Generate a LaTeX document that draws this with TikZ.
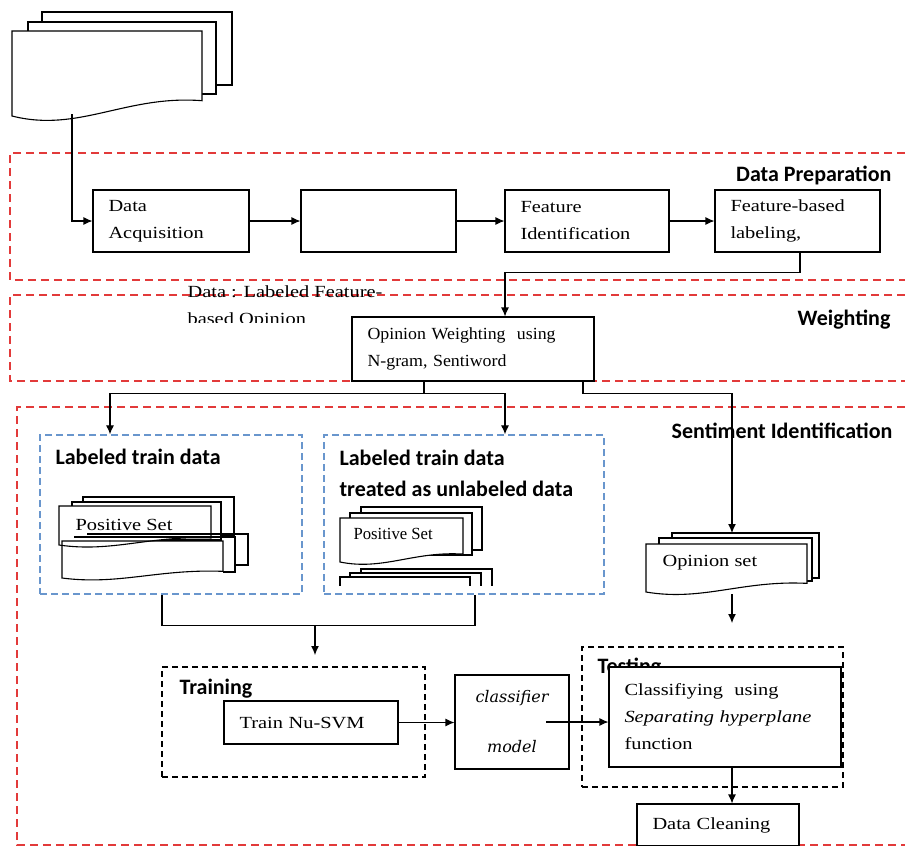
\documentclass[tikz,border=0pt]{standalone}
\usepackage{fontspec}
\setmainfont{Liberation Serif}[FakeStretch=1.2]
\newfontfamily\headfont{Carlito}
\newfontfamily\plainserif{Liberation Serif}[FakeStretch=0.98]
\newfontfamily\narrowserif{Liberation Serif}[FakeStretch=1.05]
\newfontfamily\modelfont{DejaVu Serif}

\usetikzlibrary{arrows.meta}

\definecolor{zonered}{RGB}{226,58,58}
\definecolor{setblue}{RGB}{105,150,205}

% one sheet with a wavy lower edge: x, y (top left), width, height
\newcommand{\docsheet}[5][fill=white]{%
  \draw[#1] (#2,#3) -- ({#2+#4},#3) -- ({#2+#4},{#3+0.82*#5})
    .. controls ({#2+0.6*#4},{#3+0.75*#5}) and ({#2+0.35*#4},{#3+1.2*#5}) .. (#2,{#3+#5}) -- cycle;}

\begin{document}
\begin{tikzpicture}[x=1pt, y=-1pt, line width=1.1pt,
  every node/.style={font=\fontsize{17}{27}\selectfont}]

  \tikzset{proc box/.style={rectangle,draw,fill=white,align=left,inner xsep=15.5pt,inner ysep=0pt}}
  \tikzset{zone/.style={draw=zonered,dash pattern=on 8pt off 5pt,line width=1.6pt}}
  \tikzset{set zone/.style={rectangle,draw=setblue,dash pattern=on 7pt off 4pt,line width=1.3pt}}
  \tikzset{stage zone/.style={rectangle,draw,dash pattern=on 6pt off 4pt,line width=1.8pt}}
  \tikzset{zone label/.style={font=\headfont\bfseries\fontsize{22}{31}\selectfont,inner sep=0pt}}
  \tikzset{flow/.style={-{Latex[length=9pt,width=8pt]}}}

  \useasboundingbox (0,0) rectangle (905,846);

  % the three stages
  \draw[zone] (905,153) -- (10,153) -- (10,280) -- (905,280);
  \draw[zone] (905,295) -- (10,295) -- (10,381) -- (905,381);
  \draw[zone] (905,407) -- (17,407) -- (17,845) -- (905,845);

  \node[zone label, anchor=east](preplbl) at (892,175) {Data Preparation};
  \node[zone label, anchor=east](wlbl) at (891,320) {Weighting};
  \node[zone label, anchor=east](sentlbl) at (893,431) {Sentiment Identification};

  % source documents
  \draw[fill=white] (42,12) rectangle (232,85);
  \draw[fill=white] (28,22) rectangle (216,94);
  \docsheet{12}{31}{190}{85}
  \coordinate (src) at (72,114);

  \path
    (171,221) node[proc box, text width=125pt, minimum height=62pt](acq) {Data\\Acquisition}
    (378.5,221) node[proc box, text width=124pt, minimum height=62pt](blank) {}
    (587,221) node[proc box, text width=133pt, minimum height=62pt](featid) {Feature\\Identification}
    (797.5,221) node[proc box, text width=134pt, minimum height=62pt](fblab) {Feature-based\\labeling,}
    (473,349) node[proc box, text width=211pt, minimum height=64pt,
                   font=\narrowserif\fontsize{17}{27}\selectfont](ow) {Opinion Weighting\ \ using\\N-gram, Sentiword}
  ;

  \draw[flow] (src) |- (acq);
  \draw[flow] (acq) -- (blank);
  \draw[flow] (blank) -- (featid);
  \draw[flow] (featid) -- (fblab);
  \draw[flow] ([xshift=2.5pt]fblab.south) -- ++(0,20) -| ([xshift=32pt]ow.north);

  \begin{scope}
    \clip (180,280) rectangle (400,322);
    \node[anchor=base west, align=left, inner sep=0pt](dlf) at (187,324) {Data : Labeled Feature-\\based Opinion};
  \end{scope}

  % train sets
  \node[set zone, minimum width=262pt, minimum height=159pt](lt) at (171,514.5) {};
  \node[set zone, minimum width=280pt, minimum height=159pt](lut) at (464,514.5) {};
  \node[zone label, anchor=west](ltlbl) at (55,457) {Labeled train data};
  \node[zone label, anchor=west, align=left](lutlbl) at (339,473.5) {Labeled train data\\treated as unlabeled data};

  \draw[fill=white] (83,497) rectangle (234,536);
  \draw[fill=white] (72,502) rectangle (221,540);
  \docsheet{59}{506}{152}{39}
  \node[anchor=west, inner sep=0pt](posa) at (75,525) {Positive Set};
  \draw (87,534) -- (248,534) -- (248,565) -- (235,565);
  \draw (74,537) -- (235,537) -- (235,572) -- (223,572);
  \docsheet[fill=none]{62}{541}{161}{37}

  \draw[fill=white] (361,507) rectangle (482,550);
  \draw[fill=white] (350,513) rectangle (472,555);
  \docsheet{340}{518}{123}{44}
  \node[anchor=west, inner sep=0pt, font=\plainserif\fontsize{17}{27}\selectfont](posc) at (353,534) {Positive Set};
  \begin{scope}
    \clip (330,560) rectangle (500,585);
    \draw[fill=white] (361,569) rectangle (492,600);
    \draw[fill=white] (350,573) rectangle (481,600);
    \draw[fill=white] (340,577) rectangle (470,600);
  \end{scope}

  % opinion set
  \draw[fill=white] (672,533) rectangle (819,578);
  \draw[fill=white] (659,538) rectangle (812,581);
  \docsheet{646}{544}{161}{48}
  \node[anchor=west, inner sep=0pt](opset) at (662,563) {Opinion set};
  \coordinate (ostop) at (732,533);
  \coordinate (osbot) at (732,594);
  \coordinate (tstin) at (732,623);

  \draw[flow] ([xshift=-49pt]ow.south) -- ++(0,12) -| ([xshift=-61pt]lt.north);
  \draw[flow] ([xshift=-49pt]ow.south) -- ++(0,12) -| ([xshift=41pt]lut.north);
  \draw[flow] ([xshift=110pt]ow.south) -- ++(0,12) -| (ostop);
  \draw[flow] (osbot) -- (tstin);

  \draw ([xshift=-9pt]lt.south) -- ++(0,31) -| ([xshift=11pt]lut.south);
  \coordinate (merge) at (315,625);
  \coordinate (trnin) at (315,655);
  \draw[flow] (merge) -- (trnin);

  % training and testing
  \node[stage zone, minimum width=263pt, minimum height=110pt](trn) at (293.5,722) {};
  \node[zone label, anchor=west](trnlbl) at (179,689) {Training};
  \node[proc box, text width=143pt, minimum height=43pt](svm) at (311,722.5) {Train Nu-SVM};
  \node[rectangle, draw, fill=white, align=center, minimum width=114pt, minimum height=94pt, inner sep=0pt,
        font=\modelfont\itshape\fontsize{16}{27}\selectfont](cm) at (512,722) {classifier\\[23pt]model};

  \node[stage zone, minimum width=261pt, minimum height=140pt](tst) at (712.5,717) {};
  \node[zone label, anchor=west](tstlbl) at (597,668) {Testing};
  \node[proc box, text width=201pt, minimum height=100pt](cls) at (725,717)
       {Classifiying\ \ using\\\textit{Separating hyperplane}\\function};
  \node[proc box, text width=131pt, minimum height=42pt](dc) at (718,825) {Data Cleaning};

  \draw[flow] (svm.east) -- (svm.east -| cm.west);
  \draw[flow] ([xshift=34pt]cm.center) -- (cm.center -| cls.west);
  \draw[flow] (cls.south -| osbot) -- (dc.north -| osbot);

\end{tikzpicture}
\end{document}
